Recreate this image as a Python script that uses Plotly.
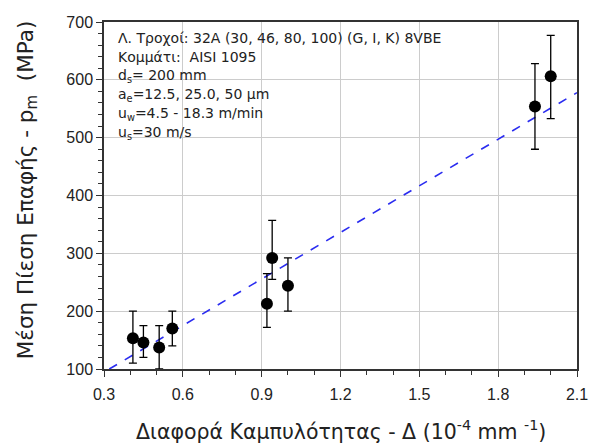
import plotly.graph_objects as go

# Curvature difference (1e-4 mm^-1) vs mean contact pressure (MPa)
curv_diff = [0.41, 0.45, 0.51, 0.56, 0.92, 0.94, 1.00, 1.94, 2.00]
pressure = [153, 146, 137, 170, 213, 292, 244, 554, 606]
err_hi = [200, 175, 175, 200, 265, 357, 292, 628, 677]
err_lo = [110, 120, 100, 140, 172, 255, 200, 480, 533]

# Linear trend line
fit_slope = 268.5
fit_intercept = 14.0
fit_x = [0.32, 2.1]

err_plus = [h - p for h, p in zip(err_hi, pressure)]
err_minus = [p - l for l, p in zip(err_lo, pressure)]
fit_y = [fit_intercept + fit_slope * x for x in fit_x]

fig = go.Figure()
fig.add_trace(go.Scatter(
    x=fit_x, y=fit_y, mode="lines",
    line=dict(color="#2a2cf0", width=1.6, dash="dash"),
    showlegend=False, hoverinfo="skip",
))
fig.add_trace(go.Scatter(
    x=curv_diff, y=pressure, mode="markers",
    marker=dict(color="black", size=12),
    error_y=dict(type="data", symmetric=False, array=err_plus, arrayminus=err_minus,
                 color="black", thickness=1.3, width=4),
    showlegend=False,
))

info_lines = [
    "Λ. Τροχοί: 32A (30, 46, 80, 100) (G, I, K) 8VBE",
    "Κομμάτι:  AISI 1095",
    "d<sub>s</sub>= 200 mm",
    "a<sub>e</sub>=12.5, 25.0, 50 μm",
    "u<sub>w</sub>=4.5 - 18.3 m/min",
    "u<sub>s</sub>=30 m/s",
]
for i, txt in enumerate(info_lines):
    fig.add_annotation(
        xref="paper", yref="paper", x=0.025, y=0.954 - i * 0.0548,
        xanchor="left", yanchor="middle", showarrow=False, text=txt,
        font=dict(family="DejaVu Sans", size=14, color="#222"),
    )

# Axis titles
fig.add_annotation(
    xref="paper", yref="paper", x=0.5, y=-0.176, xanchor="center", yanchor="middle",
    showarrow=False, font=dict(family="DejaVu Sans", size=20.5, color="#222"),
    text="Διαφορά Καμπυλότητας - Δ (10<sup>-4</sup> mm <sup>-1</sup>)",
)
fig.add_annotation(
    xref="paper", yref="paper", x=-0.163, y=0.515, xanchor="center", yanchor="middle",
    showarrow=False, font=dict(family="DejaVu Sans", size=21.5, color="#222"),
    textangle=-90,
    text="Μέση Πίεση Επαφής - p<sub>m</sub>  (MPa)",
)

axis_common = dict(
    showline=True, linecolor="#333", linewidth=1.5, mirror=True,
    showgrid=True, gridcolor="#cccccc", gridwidth=1,
    ticks="outside", ticklen=6, tickcolor="#333",
    tickfont=dict(family="Liberation Sans, Arial", size=16, color="#222"),
    zeroline=False, automargin=False,
    minor=dict(ticks="outside", ticklen=4, tickcolor="#333", showgrid=False),
)

fig.update_xaxes(
    range=[0.3, 2.1], tick0=0.3, dtick=0.3, tickformat=".1f",
    ticklabelstandoff=4,
    **axis_common,
)
fig.update_yaxes(
    range=[100, 700], tick0=100, dtick=100,
    **axis_common,
)

fig.update_layout(
    width=590, height=443,
    margin=dict(l=104, r=13, t=22, b=74),
    plot_bgcolor="white", paper_bgcolor="white",
)

fig.write_html("out.html")
